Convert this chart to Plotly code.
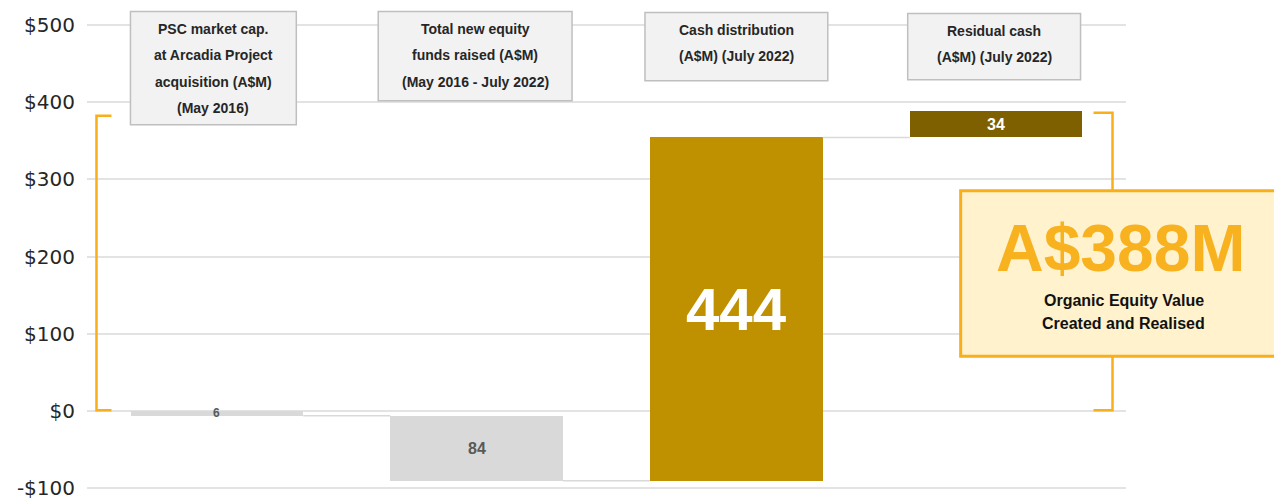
import plotly.graph_objects as go

# ---- data ----
categories = ["PSC market cap.", "New equity raised", "Cash distribution", "Residual cash"]
values = [-6, -84, 444, 34]
value_labels = ["6", "84", "444", "34"]
header_lines = [
    ["PSC market cap.", "at Arcadia Project", "acquisition (A$M)", "(May 2016)"],
    ["Total new equity", "funds raised (A$M)", "(May 2016 - July 2022)"],
    ["Cash distribution", "(A$M) (July 2022)"],
    ["Residual cash", "(A$M) (July 2022)"],
]
tick_vals = [-100, 0, 100, 200, 300, 400, 500]
tick_text = ["-$100", "$0", "$100", "$200", "$300", "$400", "$500"]
total_label = "A$388M"
total_caption = ["Organic Equity Value", "Created and Realised"]

# ---- styles ----
bar_colors = ["#D9D9D9", "#D9D9D9", "#BF9000", "#7F6000"]
label_colors = ["#595959", "#595959", "#FFFFFF", "#FFFFFF"]
label_sizes = [12, 16, 60, 16]
bar_width = 0.665
ORANGE = "#F9AE1B"

# layout geometry (pixels)
W, H = 1274, 499
Y_TOP_PX, Y_BOT_PX = 25, 488          # pixel rows of +500 and -100
YMIN, YMAX = -100, 500
PAD_U = 2
ppu = (Y_BOT_PX - Y_TOP_PX) / (YMAX - YMIN)
ML, MR = 86.5, 147.5
MT = Y_TOP_PX - PAD_U * ppu
MB = H - (Y_BOT_PX + PAD_U * ppu)
PW, PH = W - ML - MR, H - MT - MB


def fx(px):
    return (px - ML) / PW


def fy(py):
    return (H - MB - py) / PH


# waterfall bases
bases, cum = [], 0
for v in values:
    bases.append(cum if v >= 0 else cum + v)
    cum += v
ends = []
c = 0
for v in values:
    c += v
    ends.append(c)

xs = list(range(len(values)))

fig = go.Figure()
fig.add_trace(go.Bar(
    x=xs, y=[abs(v) for v in values], base=bases, width=bar_width,
    marker=dict(color=bar_colors, line=dict(width=0)),
    hoverinfo="skip", showlegend=False,
))

# connectors
cx, cy = [], []
for i in range(len(values) - 1):
    cx += [i + bar_width / 2, i + 1 - bar_width / 2, None]
    cy += [ends[i], ends[i], None]
fig.add_trace(go.Scatter(x=cx, y=cy, mode="lines",
                         line=dict(color="#D9D9D9", width=1.5),
                         hoverinfo="skip", showlegend=False))

annotations = []
for i, v in enumerate(values):
    annotations.append(dict(
        x=i, y=bases[i] + abs(v) / 2, xref="x", yref="y",
        text=f"<b>{value_labels[i]}</b>", showarrow=False,
        font=dict(family="Liberation Sans, Arial", size=label_sizes[i], color=label_colors[i]),
        xanchor="center", yanchor="middle",
    ))

shapes = []


def bracket_path(xv, xs_, ytop, ybot):
    return f"M {fx(xs_)},{fy(ytop)} L {fx(xv)},{fy(ytop)} L {fx(xv)},{fy(ybot)} L {fx(xs_)},{fy(ybot)}"


shapes.append(dict(type="path", xref="paper", yref="paper",
                   path=bracket_path(96, 111, 116, 410),
                   line=dict(color=ORANGE, width=2.5)))
shapes.append(dict(type="path", xref="paper", yref="paper",
                   path=bracket_path(1113, 1094, 113, 410),
                   line=dict(color=ORANGE, width=2.5)))

# header boxes
header_boxes = [(130, 296, 12, 125), (378, 572, 12, 101), (645, 828, 13, 81), (908, 1081, 14, 80)]
for (x0, x1, y0, y1), lines in zip(header_boxes, header_lines):
    shapes.append(dict(type="rect", xref="paper", yref="paper",
                       x0=fx(x0), x1=fx(x1), y0=fy(y1), y1=fy(y0),
                       fillcolor="#F2F2F2", line=dict(color="#BFBFBF", width=1.5)))
    cxp = (x0 + x1) / 2
    for j, t in enumerate(lines):
        annotations.append(dict(
            x=fx(cxp), y=fy(y0 + 17 + 26.5 * j), xref="paper", yref="paper",
            text=f"<b>{t}</b>", showarrow=False,
            font=dict(family="Liberation Sans, Arial", size=14, color="#262626"),
            xanchor="center", yanchor="middle",
        ))

# total box
shapes.append(dict(type="rect", xref="paper", yref="paper",
                   x0=fx(961), x1=fx(1290), y0=fy(356), y1=fy(191),
                   fillcolor="#FFF2CC", line=dict(color=ORANGE, width=3)))
annotations.append(dict(
    x=fx(1121), y=fy(248), xref="paper", yref="paper",
    text=f"<b>{total_label}</b>", showarrow=False,
    font=dict(family="Liberation Sans, Arial", size=66, color="#F9B21F"),
    xanchor="center", yanchor="middle",
))
for j, t in enumerate(total_caption):
    annotations.append(dict(
        x=fx(1124), y=fy(300 + 23 * j), xref="paper", yref="paper",
        text=f"<b>{t}</b>", showarrow=False,
        font=dict(family="Liberation Sans, Arial", size=16, color="#111111"),
        xanchor="center", yanchor="middle",
    ))

fig.update_layout(
    width=W, height=H,
    margin=dict(l=ML, r=MR, t=MT, b=MB, pad=0, autoexpand=False),
    plot_bgcolor="white", paper_bgcolor="white",
    shapes=shapes, annotations=annotations,
    xaxis=dict(range=[-0.5, len(values) - 0.5], showticklabels=False, showgrid=False,
               zeroline=False, showline=False, fixedrange=True, automargin=False),
    yaxis=dict(range=[YMIN - PAD_U, YMAX + PAD_U], tickvals=tick_vals, ticktext=tick_text,
               showgrid=True, gridcolor="#E3E3E3", gridwidth=1.5, zeroline=False,
               showline=False, ticks="", ticklabelstandoff=11, fixedrange=True,
               ticklabeloverflow="allow", automargin=False,
               tickfont=dict(family="DejaVu Sans", size=20, color="#262626")),
    bargap=0,
)

fig.write_html("out.html", config={"displayModeBar": False},
               post_script="document.body.style.margin='0';")
